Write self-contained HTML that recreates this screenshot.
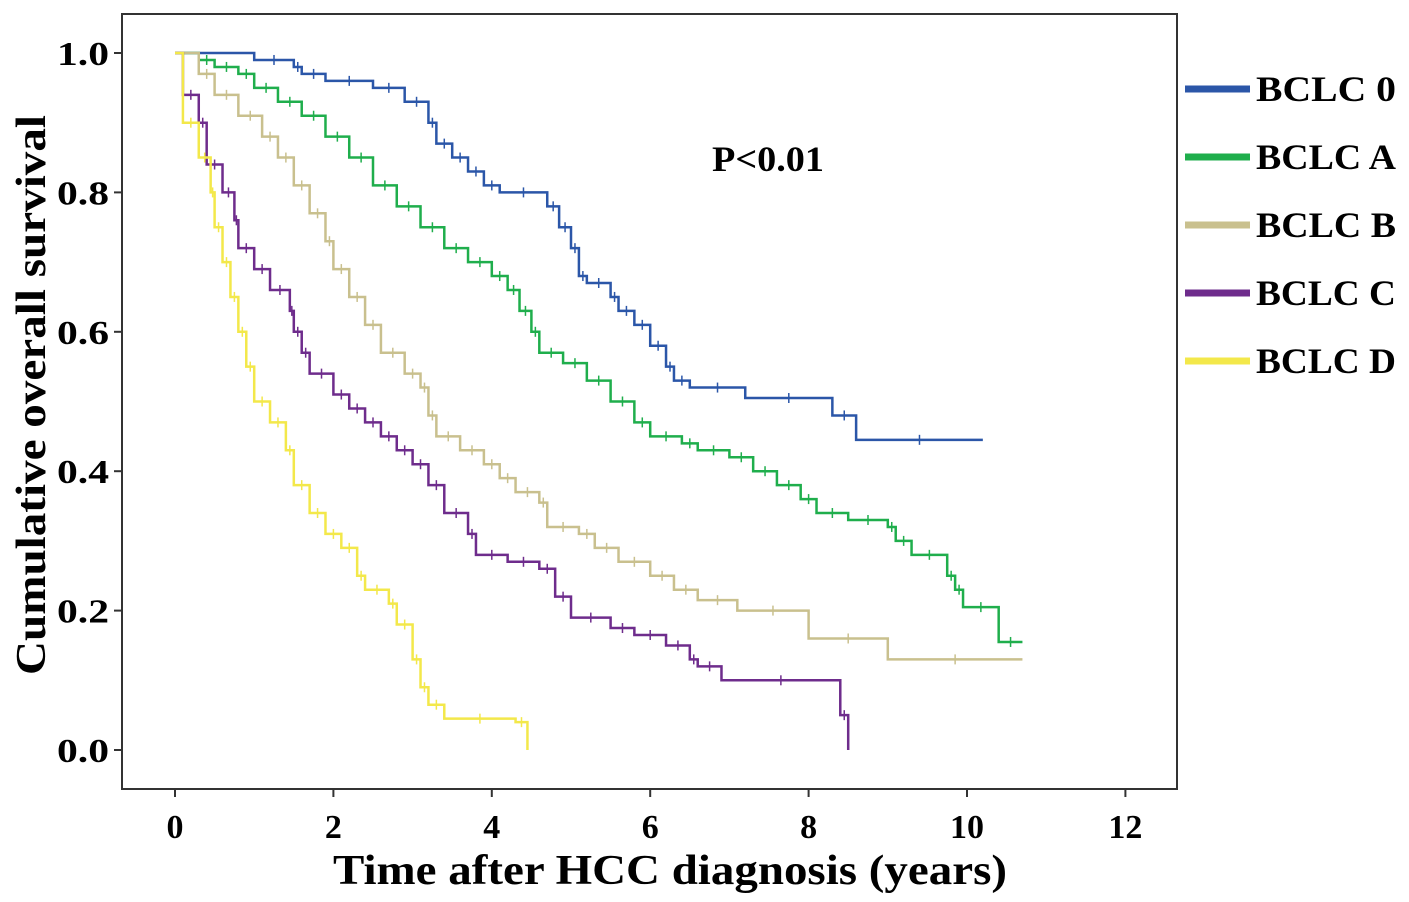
<!DOCTYPE html>
<html><head><meta charset="utf-8"><style>
body{margin:0;background:#fff;}
svg{display:block;font-family:"Liberation Serif",serif;font-weight:bold;}
</style></head><body>
<svg id="chart" width="1409" height="902" viewBox="0 0 1409 902">
<rect x="122" y="14" width="1055" height="775" fill="#fff" stroke="#333" stroke-width="2"/>
<g id="axes"></g><g id="series"></g>
<text x="712" y="171" font-size="36" textLength="112" lengthAdjust="spacingAndGlyphs">P&lt;0.01</text>
<text transform="translate(45,675) rotate(-90)" font-size="42" textLength="560" lengthAdjust="spacingAndGlyphs">Cumulative overall survival</text>
<text x="333" y="884" font-size="42" textLength="674" lengthAdjust="spacingAndGlyphs">Time after HCC diagnosis (years)</text>
<g id="legend"></g>
</svg>
<script>
const names=["BCLC 0","BCLC A","BCLC B","BCLC C","BCLC D"];
const colors=["#2b56a8","#1fae4c","#c9c08e","#6e2c8c","#f3e84a"];
const xTicks=[0,2,4,6,8,10,12];
const yTicks=[0.0,0.2,0.4,0.6,0.8,1.0];
const t0=[0,1.0,1.5,1.6,1.9,2.5,2.9,3.2,3.3,3.5,3.7,3.9,4.1,4.7,4.85,5.0,5.1,5.2,5.5,5.6,5.8,6.0,6.2,6.3,6.5,7.2,8.3,8.6,10.2];
const s0=[1,0.99,0.98,0.97,0.96,0.95,0.93,0.90,0.87,0.85,0.83,0.81,0.80,0.78,0.75,0.72,0.68,0.67,0.65,0.63,0.61,0.58,0.55,0.53,0.52,0.505,0.48,0.445,0.445];
const tA=[0,0.3,0.5,0.8,1.0,1.3,1.6,1.9,2.2,2.5,2.8,3.1,3.4,3.7,4.0,4.2,4.35,4.5,4.6,4.9,5.2,5.5,5.8,6.0,6.4,6.6,7.0,7.3,7.6,7.9,8.1,8.5,9.0,9.1,9.3,9.75,9.85,9.95,10.4,10.7];
const sA=[1,0.99,0.98,0.97,0.95,0.93,0.91,0.88,0.85,0.81,0.78,0.75,0.72,0.70,0.68,0.66,0.63,0.60,0.57,0.555,0.53,0.50,0.47,0.45,0.44,0.43,0.42,0.40,0.38,0.36,0.34,0.33,0.32,0.30,0.28,0.25,0.23,0.205,0.155,0.155];
const tB=[0,0.3,0.5,0.8,1.1,1.3,1.5,1.7,1.9,2.0,2.2,2.4,2.6,2.9,3.1,3.2,3.3,3.6,3.9,4.1,4.3,4.6,4.7,5.1,5.3,5.6,6.0,6.3,6.6,7.1,8.0,9.0,10.7];
const sB=[1,0.97,0.94,0.91,0.88,0.85,0.81,0.77,0.73,0.69,0.65,0.61,0.57,0.54,0.52,0.48,0.45,0.43,0.41,0.39,0.37,0.355,0.32,0.31,0.29,0.27,0.25,0.23,0.215,0.20,0.16,0.13,0.13];
const tC=[0,0.1,0.3,0.4,0.6,0.75,0.8,1.0,1.2,1.45,1.5,1.6,1.7,2.0,2.2,2.4,2.6,2.8,3.0,3.2,3.4,3.7,3.8,4.2,4.6,4.8,5.0,5.5,5.8,6.2,6.5,6.6,6.9,8.4,8.5];
const sC=[1,0.94,0.90,0.84,0.80,0.76,0.72,0.69,0.66,0.63,0.60,0.57,0.54,0.51,0.49,0.47,0.45,0.43,0.41,0.38,0.34,0.31,0.28,0.27,0.26,0.22,0.19,0.175,0.165,0.15,0.13,0.12,0.10,0.05,0.0];
const tD=[0,0.1,0.3,0.45,0.5,0.6,0.7,0.8,0.9,1.0,1.2,1.4,1.5,1.7,1.9,2.1,2.3,2.4,2.7,2.8,3.0,3.1,3.2,3.4,4.3,4.45];
const sD=[1,0.90,0.85,0.80,0.75,0.70,0.65,0.60,0.55,0.50,0.47,0.43,0.38,0.34,0.31,0.29,0.25,0.23,0.21,0.18,0.13,0.09,0.065,0.045,0.04,0.0];
const times=[t0,tA,tB,tC,tD], survs=[s0,sA,sB,sC,sD];
const X=t=>175+t*79.2, Y=s=>750-s*697;
const NS="http://www.w3.org/2000/svg";
const ax=document.getElementById('axes'),se=document.getElementById('series'),lg=document.getElementById('legend');
function mk(tag,attrs,parent){const e=document.createElementNS(NS,tag);for(const k in attrs)e.setAttribute(k,attrs[k]);parent.appendChild(e);return e;}
xTicks.forEach(v=>{
 const l=mk('line',{x1:X(v),x2:X(v),y1:789,y2:797,stroke:'#333','stroke-width':2},ax);
 
 
 const t=mk('text',{x:X(v),y:838,'font-size':34,'text-anchor':'middle'},ax);t.textContent=v;
 
 
});
yTicks.forEach(v=>{
 const l=mk('line',{x1:114,x2:122,y1:Y(v),y2:Y(v),stroke:'#333','stroke-width':2},ax);
 
 
 const t=mk('text',{x:57,y:Y(v)+12,'font-size':34,textLength:52,lengthAdjust:'spacingAndGlyphs'},ax);t.textContent=v.toFixed(1);
 
 
});
times.forEach((ts,i)=>{
 const ss=survs[i];let d=`M${X(ts[0])},${Y(ss[0])}`;
 for(let j=1;j<ts.length;j++){d+=` H${X(ts[j])} V${Y(ss[j])}`;}
 const p=mk('path',{d:d,fill:'none',stroke:colors[i],'stroke-width':2.5},se);
 
 
 for(let j=1;j<ts.length-1;j++){
  const xm=X((ts[j]+ts[j+1])/2);
  const c=mk('line',{x1:xm,x2:xm,y1:Y(ss[j])-5,y2:Y(ss[j])+5,stroke:colors[i],'stroke-width':1.5},se);
  
  
 }
 const ly=89+i*68;
 const ll=mk('line',{x1:1185,x2:1250,y1:ly,y2:ly,stroke:colors[i],'stroke-width':7},lg);
 
 
 const lt=mk('text',{x:1256,y:ly+12,'font-size':36,textLength:140,lengthAdjust:'spacingAndGlyphs'},lg);lt.textContent=names[i];
 
 
});
</script>
</body></html>
